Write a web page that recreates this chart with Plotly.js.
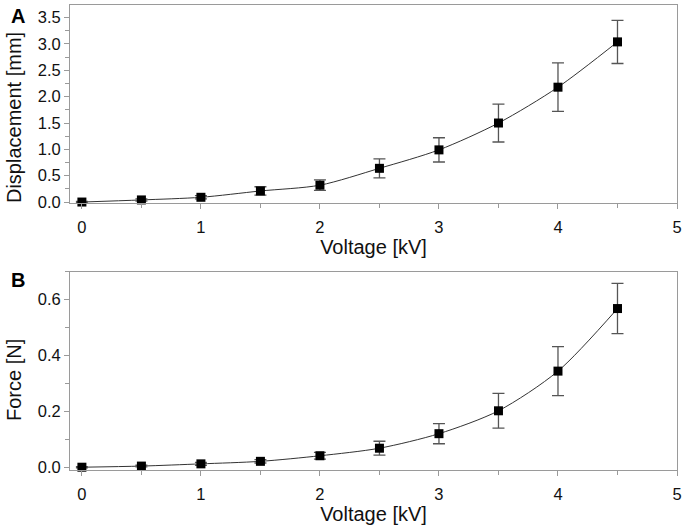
<!DOCTYPE html>
<html>
<head>
<meta charset="utf-8">
<script src="https://cdn.plot.ly/plotly-3.0.1.min.js"></script>
<style>
  html, body { margin: 0; padding: 0; background: #fff; }
  #chart { width: 686px; height: 527px; }
</style>
</head>
<body>
<div id="chart"></div>
<script>
// voltage steps (kV), shared by both panels
const voltage = [0, 0.5, 1.0, 1.5, 2.0, 2.5, 3.0, 3.5, 4.0, 4.5];

// panel A: displacement (mm) with std error
const displacement = [0, 0.04, 0.09, 0.21, 0.32, 0.64, 0.99, 1.50, 2.18, 3.04];
const displacementErr = [0.01, 0.02, 0.03, 0.08, 0.10, 0.18, 0.23, 0.36, 0.46, 0.41];

// panel B: force (N) with std error
const force = [0, 0.004, 0.012, 0.021, 0.041, 0.068, 0.120, 0.202, 0.344, 0.568];
const forceErr = [0.002, 0.003, 0.005, 0.006, 0.012, 0.025, 0.036, 0.062, 0.088, 0.090];

const FONT = 'Liberation Sans, Arial, sans-serif';
const FRAME = '#9a9a9a';

function fitTrace(y, xa, ya) {
    return {
        x: voltage, y, xaxis: xa, yaxis: ya,
        type: 'scatter', mode: 'lines',
        line: { color: '#333', width: 1, shape: 'spline', smoothing: 0.8 },
        hoverinfo: 'none'
    };
}

function pointTrace(y, err, xa, ya) {
    return {
        x: voltage, y, xaxis: xa, yaxis: ya,
        type: 'scatter', mode: 'markers',
        marker: { color: '#000', size: 9, symbol: 'square' },
        error_y: { type: 'data', array: err, visible: true, color: '#555', thickness: 1.3, width: 6 },
        cliponaxis: false
    };
}

function xAxis(anchor) {
    return {
        anchor, range: [-0.1, 5], tickmode: 'linear', tick0: 0, dtick: 1,
        ticks: 'outside', ticklen: 5, tickcolor: FRAME, ticklabelstandoff: 4,
        minor: { dtick: 0.5, ticks: 'outside', ticklen: 4, tickcolor: FRAME },
        showline: true, linecolor: FRAME, linewidth: 1, mirror: true,
        showgrid: false, zeroline: false,
        tickfont: { family: FONT, size: 16.5, color: '#111' },
        title: { text: 'Voltage [kV]', font: { family: FONT, size: 20, color: '#111' }, standoff: 1 }
    };
}

function yAxis(anchor, domain, range, dtick, minor) {
    return {
        anchor, domain, range, tickmode: 'linear', tick0: 0, dtick,
        ticks: 'outside', ticklen: 5, tickcolor: FRAME, tickformat: '.1f',
        minor: { dtick: minor, ticks: 'outside', ticklen: 4, tickcolor: FRAME },
        showline: true, linecolor: FRAME, linewidth: 1, mirror: true,
        showgrid: false, zeroline: false,
        tickfont: { family: FONT, size: 16.5, color: '#111' }
    };
}

function yTitle(text, y) {
    return {
        text, xref: 'paper', yref: 'paper', x: -0.0923, y, textangle: -90,
        xanchor: 'center', yanchor: 'middle', showarrow: false,
        font: { family: FONT, size: 20, color: '#111' }
    };
}

function panelLabel(text, y) {
    return {
        text: '<b>' + text + '</b>', xref: 'paper', yref: 'paper', x: -0.1, y,
        xanchor: 'left', yanchor: 'top', showarrow: false,
        font: { family: FONT, size: 20, color: '#000' }
    };
}

const data = [
    fitTrace(displacement, 'x', 'y'),
    pointTrace(displacement, displacementErr, 'x', 'y'),
    fitTrace(force, 'x2', 'y2'),
    pointTrace(force, forceErr, 'x2', 'y2')
];

const layout = {
    width: 686, height: 527,
    margin: { l: 70, r: 9, t: 5, b: 57 },
    paper_bgcolor: '#fff', plot_bgcolor: '#fff',
    showlegend: false,
    font: { family: FONT, color: '#111' },
    xaxis: xAxis('y'),
    yaxis: yAxis('x', [0.574, 1], [-0.02, 3.74], 0.5, 0.25),
    xaxis2: xAxis('y2'),
    yaxis2: yAxis('x2', [0, 0.4265], [-0.01, 0.7], 0.2, 0.1),
    annotations: [
        yTitle('Displacement [mm]', 0.759),
        yTitle('Force [N]', 0.1935),
        panelLabel('A', 1.004),
        panelLabel('B', 0.4366)
    ]
};

Plotly.newPlot('chart', data, layout, { displayModeBar: false, staticPlot: true });
</script>
</body>
</html>
